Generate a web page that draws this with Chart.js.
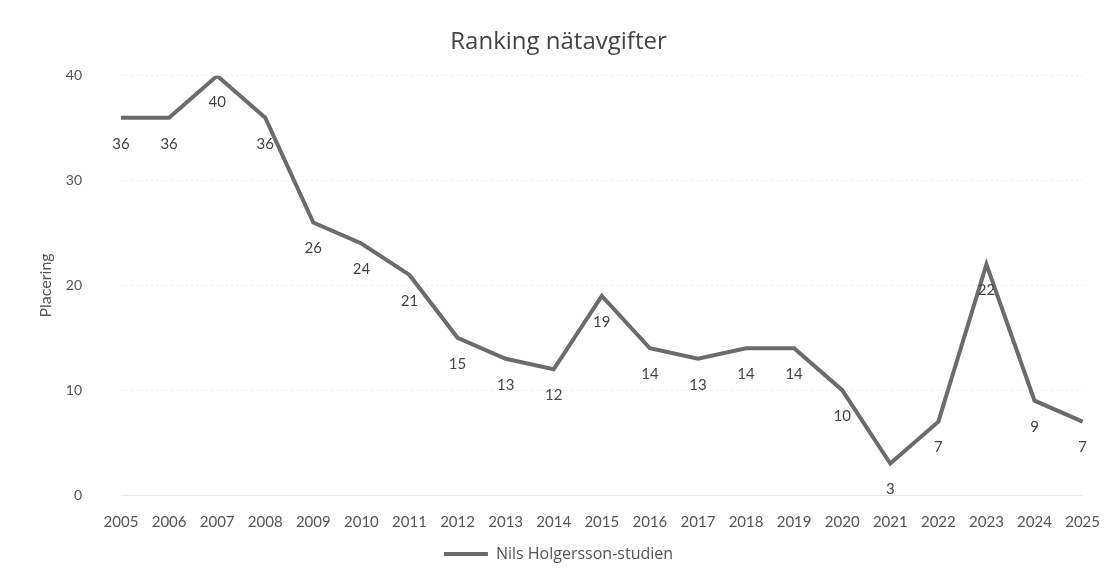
<!DOCTYPE html>
<html>
<head>
<meta charset="utf-8">
<script src="https://cdn.jsdelivr.net/npm/chart.js@4"></script>
<style>
  html, body { margin: 0; padding: 0; background: #fff; }
  #wrap { width: 1110px; height: 573px; }
</style>
</head>
<body>
<div id="wrap"><canvas id="chart-ranking"></canvas></div>
<script>
// Data läst från bilden
const AR = ["2005", "2006", "2007", "2008", "2009", "2010", "2011", "2012", "2013", "2014",
  "2015", "2016", "2017", "2018", "2019", "2020", "2021", "2022", "2023", "2024", "2025"];
const PLACERING = [36, 36, 40, 36, 26, 24, 21, 15, 13, 12, 19, 14, 13, 14, 14, 10, 3, 7, 22, 9, 7];
const Y_TICKS = [0, 10, 20, 30, 40];

const FONT = "Lato, 'Open Sans', sans-serif";
const FONT_WIDE = "'Open Sans', Lato, sans-serif";
const TEXT = "#555";

// Etiketter under varje punkt (som Excel-diagrammet)
const etiketter = {
  id: "etiketter",
  afterDatasetsDraw(chart) {
    const ctx = chart.ctx;
    const meta = chart.getDatasetMeta(0);
    ctx.save();
    ctx.font = "15px " + FONT;
    ctx.fillStyle = "#444";
    ctx.textAlign = "center";
    ctx.textBaseline = "middle";
    meta.data.forEach((pt, i) => {
      ctx.fillText(String(PLACERING[i]), pt.x, pt.y + 26);
    });
    ctx.restore();
  },
};

new Chart(document.getElementById("chart-ranking"), {
  type: "line",
  data: {
    labels: AR,
    datasets: [{
      label: "Nils Holgersson-studien",
      data: PLACERING,
      borderColor: "#6b6b6b",
      backgroundColor: "#6b6b6b",
      borderWidth: 4,
      pointRadius: 0,
      tension: 0,
    }],
  },
  options: {
    responsive: true,
    maintainAspectRatio: false,
    animation: false,
    layout: { padding: { left: 32, right: 25, top: 10, bottom: 1 } },
    scales: {
      x: {
        offset: false,
        grid: { display: false },
        border: { color: "#e6e6e6" },
        ticks: { color: TEXT, font: { family: FONT, size: 15 }, padding: 10, maxRotation: 0, autoSkip: false },
      },
      y: {
        min: 0,
        max: 40,
        afterBuildTicks: (axis) => { axis.ticks = Y_TICKS.map((v) => ({ value: v })); },
        afterFit: (axis) => { axis.width = 89; },
        grid: { color: "#ededed", drawTicks: false },
        border: { display: false, dash: [2, 3] },
        ticks: { color: TEXT, font: { family: FONT, size: 14 }, padding: 39 },
        title: { display: true, text: "Placering", color: TEXT, font: { family: FONT, size: 16 }, padding: 4 },
      },
    },
    plugins: {
      title: {
        display: true,
        text: "Ranking nätavgifter",
        color: "#444",
        font: { family: FONT_WIDE, size: 24, weight: "normal" },
        padding: { top: 18, bottom: 19 },
      },
      legend: {
        position: "bottom",
        labels: {
          color: TEXT,
          font: { family: FONT_WIDE, size: 16 },
          usePointStyle: true,
          pointStyle: "line",
          pointStyleWidth: 44,
          boxWidth: 44,
          padding: 5,
        },
      },
      tooltip: { enabled: false },
    },
  },
  plugins: [etiketter],
});
</script>
</body>
</html>
